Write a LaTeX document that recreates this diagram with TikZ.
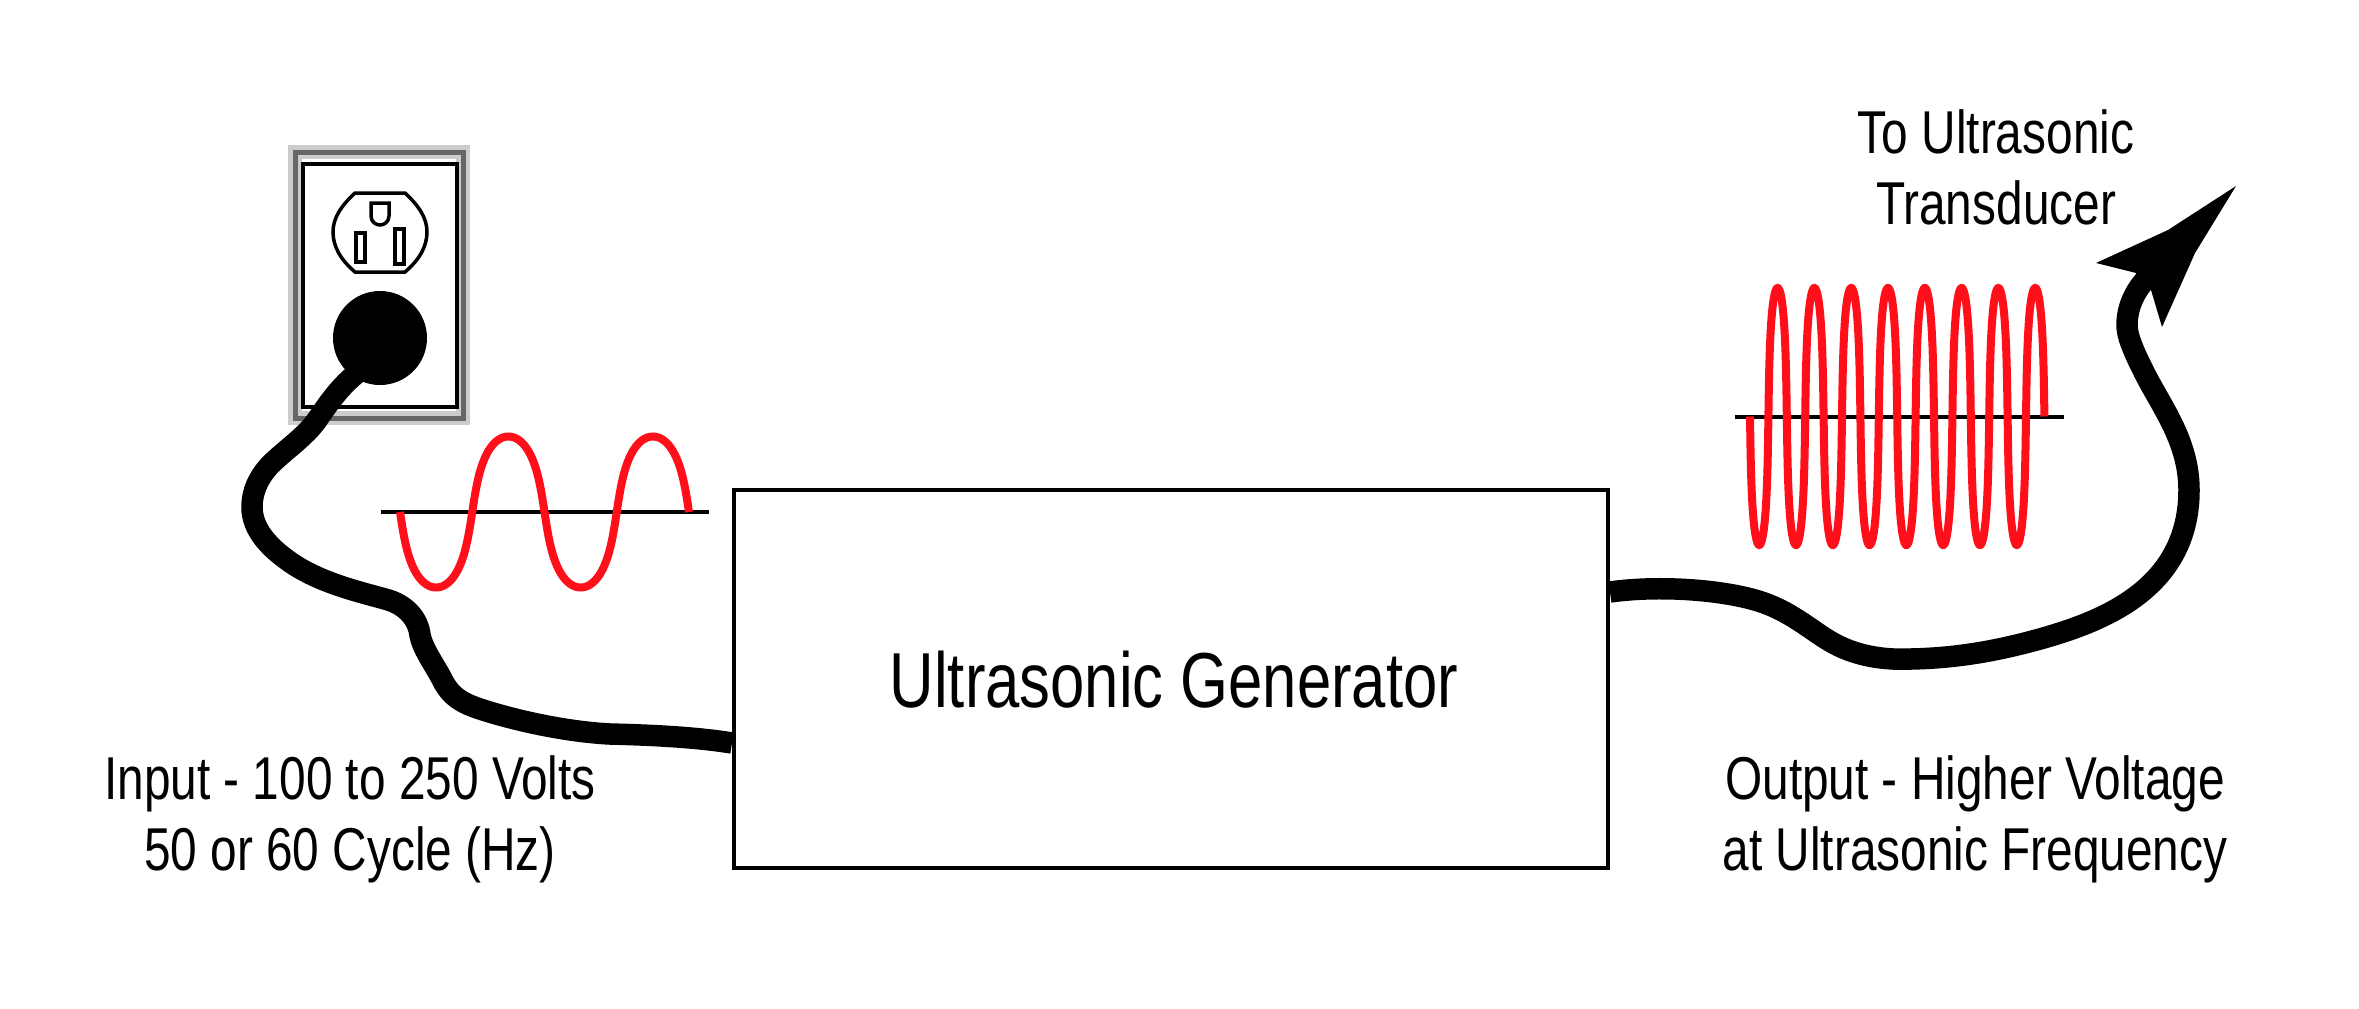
\documentclass[tikz,border=0pt]{standalone}
\usepackage{fontspec}
\setmainfont{Liberation Sans}[FakeStretch=0.79]
\definecolor{wavered}{HTML}{FF0F1A}
\definecolor{framedark}{HTML}{666666}
\definecolor{framelight}{HTML}{CCCCCC}
\tikzset{
  cord/.style={line width=21.5pt,black},
  wave/.style={line width=8pt,wavered},
  axisline/.style={line width=4pt,black},
  label/.style={align=center,inner sep=0pt,font=\fontsize{60.5}{71}\selectfont},
  thinline/.style={line width=3.5pt,black},
}
\begin{document}
\begin{tikzpicture}[x=1pt,y=-1pt]
\useasboundingbox (0,0) rectangle (2359,1009);
\fill[white] (0,0) rectangle (2359,1009);
% outlet plate
\draw[framelight,line width=14pt] (295,152) rectangle (463,418);
\draw[framedark,line width=5pt] (295,152) rectangle (463,418);
\draw[line width=4pt,fill=white] (303,164) rectangle (457,407);
% receptacle
\draw[thinline] (355,193) -- (405,193) .. controls (419,206) and (427,218) .. (427,232)
  .. controls (427,247) and (419,260) .. (405,272) -- (355,272)
  .. controls (341,260) and (333,247) .. (333,232)
  .. controls (333,218) and (341,206) .. (355,193) -- cycle;
\draw[thinline] (371,203) -- (389,203) -- (389,216) .. controls (389,222) and (384,225) .. (380,225)
  .. controls (376,225) and (371,222) .. (371,216) -- cycle;
\draw[thinline] (356,233) rectangle (365,262);
\draw[thinline] (395,229) rectangle (404,264);
% plug
\node[circle,fill=black,minimum size=94pt,inner sep=0pt] (plug) at (380,338) {};
% generator
\node[draw=black,line width=4pt,minimum width=874pt,minimum height=378pt,inner sep=0pt] (gen) at (1171,679) {};
\node[inner sep=0pt,font=\fontsize{78}{90}\selectfont] (gentext) at (1174,680) {Ultrasonic Generator};
% cords
\coordinate (cordAstart) at (368,365);
\coordinate (cordAend) at (gen.west |- 0,743);
\coordinate (cordBstart) at (gen.east |- 0,592);
\draw[cord] (cordAstart) .. controls (345,380) and (332,398) .. (317,420)
  .. controls (305,437) and (285,450) .. (270,465)
  .. controls (258,478) and (252,492) .. (252,507)
  .. controls (252,530) and (270,548) .. (290,562)
  .. controls (320,583) and (360,592) .. (385,599)
  .. controls (405,604) and (418,618) .. (420,635)
  .. controls (423,650) and (435,665) .. (444,683)
  .. controls (452,697) and (462,703) .. (480,709)
  .. controls (520,722) and (570,732) .. (610,734)
  .. controls (650,735) and (695,737) .. (cordAend);
\coordinate (tipbase) at (2150,275);
\draw[cord] (cordBstart) .. controls (1660,585) and (1720,590) .. (1755,600)
  .. controls (1790,610) and (1810,630) .. (1833,643)
  .. controls (1860,658) and (1890,660) .. (1911,659)
  .. controls (1960,658) and (2000,650) .. (2040,639)
  .. controls (2100,622) and (2189,590) .. (2189,490)
  .. controls (2189,440) and (2160,405) .. (2143,370)
  .. controls (2132,348) and (2127,335) .. (2127,325)
  .. controls (2127,305) and (2137,287) .. (tipbase);
% arrowhead
\node[fill=none,inner sep=0pt] (tip) at (2236,186) {};
\fill[black] (tip.center) -- (2195,253) -- (2162,327) -- (2151,290) -- (2136,273) -- (2096,263) -- (2168,230) -- cycle;
% waves
\draw[axisline] (381,512) -- (709,512);
\draw[wave] plot[domain=0:720,samples=300] ({400+\x/180*72.25-72.25*0.08*sin(2*\x)},{512+75.5*sin(\x)});
\draw[axisline] (1735,417) -- (2064,417);
\draw[wave] plot[domain=0:2880,samples=800] ({1750+\x/180*18.4-18.4*0.11*sin(2*\x)},{416.5+128.5*sin(\x)});
% labels
\node[label] (inlabel) at (350,819) {Input - 100 to 250 Volts\\50 or 60 Cycle (Hz)};
\node[label] (outlabel) at (1975,819) {Output - Higher Voltage\\at Ultrasonic Frequency};
\node[label] (tolabel) at (1996,167) {To Ultrasonic\\Transducer};
\end{tikzpicture}
\end{document}
